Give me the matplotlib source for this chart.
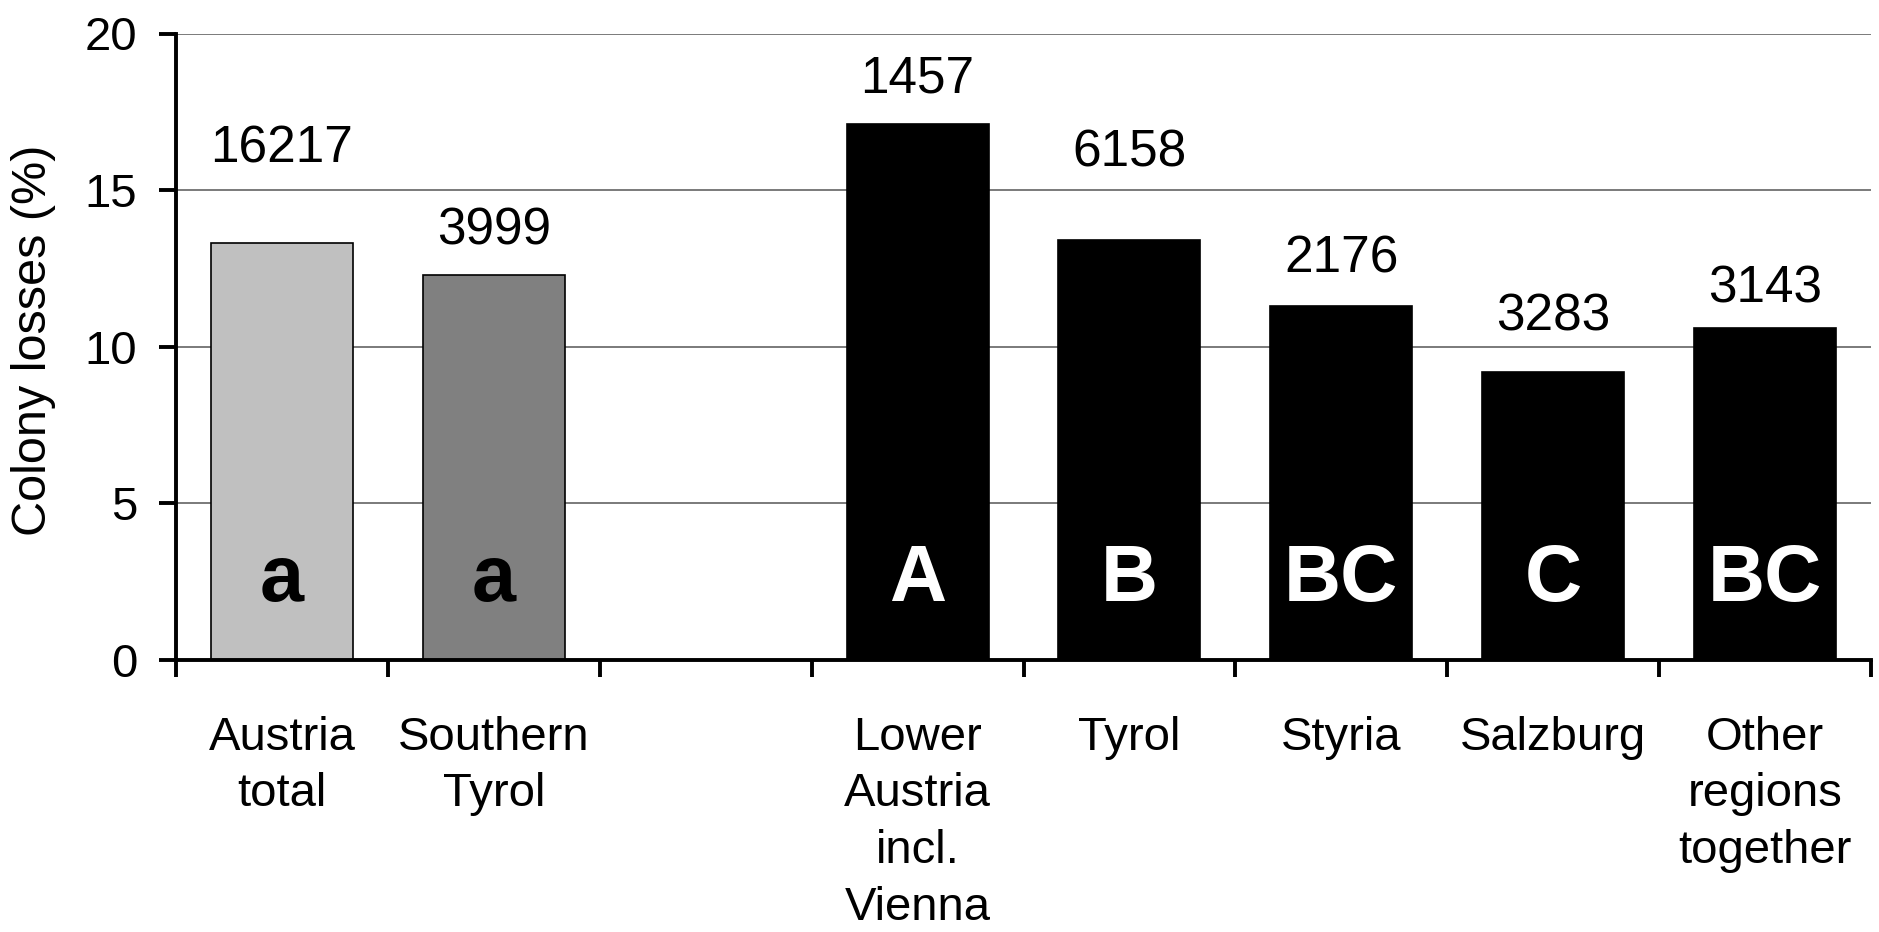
import matplotlib
matplotlib.use("Agg")
import matplotlib.pyplot as plt
import numpy as np

plt.rcParams['font.family'] = ['Liberation Sans', 'DejaVu Sans']

# data
regions = ['Austria\ntotal', 'Southern\nTyrol', '',
           'Lower\nAustria\nincl.\nVienna', 'Tyrol', 'Styria', 'Salzburg',
           'Other\nregions\ntogether']
losses = [13.3, 12.3, None, 17.1, 13.4, 11.3, 9.2, 10.6]
colonies = ['16217', '3999', '', '1457', '6158', '2176', '3283', '3143']
groups = ['a', 'a', '', 'A', 'B', 'BC', 'C', 'BC']

# layout: how far above each bar the colony count sits (in %)
count_lift = [3.0, 1.4, 0, 1.45, 2.8, 1.5, 1.75, 1.25]
bar_colors = ['#c0c0c0', '#808080', 'none', 'k', 'k', 'k', 'k', 'k']
group_colors = ['k', 'k', 'k', 'w', 'w', 'w', 'w', 'w']

fig = plt.figure(figsize=(18.79, 9.32), dpi=100)
ax = fig.add_axes([176/1879, 1 - 660/932, (1871 - 176)/1879, (660 - 33.5)/932])

x = np.arange(len(regions))
for i in x:
	if losses[i] is None:
		continue
	ax.bar(i, losses[i], width=0.67, color=bar_colors[i], edgecolor='k', linewidth=1.2, zorder=2)
	ax.text(i, losses[i] + count_lift[i], colonies[i], ha='center', va='center', fontsize=37)
	ax.text(i, 2.55, groups[i], ha='center', va='center', fontsize=57,
		fontweight='bold', color=group_colors[i])

ax.set_xlim(-0.5, len(regions) - 0.5)
ax.set_ylim(0, 20)
ax.set_yticks([0, 5, 10, 15, 20])
ax.yaxis.grid(True, color='#707070', linewidth=1.3, zorder=0)
ax.set_axisbelow(True)

ax.set_xticks(x)
ax.set_xticklabels(regions, fontsize=34, linespacing=1.38)
ax.set_xticks(np.arange(len(regions) + 1) - 0.5, minor=True)
ax.tick_params(axis='x', which='major', length=0, pad=40)
ax.tick_params(axis='x', which='minor', length=12, width=2.8, direction='out')
ax.tick_params(axis='y', length=12, width=2.8, labelsize=34, pad=16)

for s in ['top', 'right']:
	ax.spines[s].set_visible(False)
for s in ['left', 'bottom']:
	ax.spines[s].set_linewidth(2.8)

ax.set_ylabel('Colony losses (%)', fontsize=35)
ax.yaxis.set_label_coords((34 - 176)/1695, 0.51)
ax.yaxis.label.set_va('center')

fig.savefig('out.png', dpi=100)
